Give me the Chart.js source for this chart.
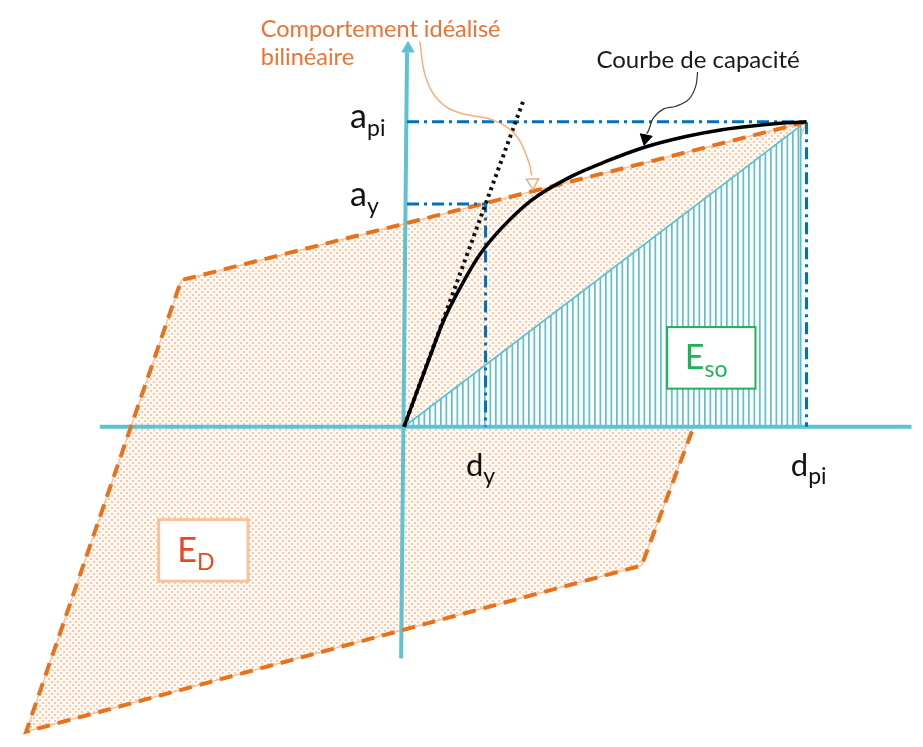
<!DOCTYPE html>
<html>
<head>
<meta charset="utf-8">
<script src="https://cdn.jsdelivr.net/npm/chart.js@4.4.0/dist/chart.umd.min.js"></script>
<style>
  body { margin: 0; background: #fff; }
  #wrap { width: 923px; height: 747px; }
</style>
</head>
<body>
<div id="wrap"><canvas id="chart"></canvas></div>
<script>
// schematic units, origin where the two axes cross (x = displacement, y = acceleration)

// capacity curve (courbe de capacite)
var capX = [0, 12, 25, 40, 57, 77, 100, 130, 170, 207, 245, 287, 324, 357, 390, 410];
var capY = [0, 33, 68, 108, 142, 176, 204, 232, 256, 272, 286, 297, 304, 308, 311, 312];

// initial stiffness (dotted)
var tanX = [0, 122];
var tanY = [0, 335];

// idealised bilinear loop corners: P, A, D, C
var loopX = [410, -227, -385, 242, 410];
var loopY = [312, 150, -312, -142, 312];

// dashed edges of the loop (right edge stops on the x axis)
var edgeX = [410, -227, -385, 242, 295];
var edgeY = [312, 150, -312, -142, 0];

// Eso triangle
var triX = [0, 404, 404, 0];
var triY = [0, 308, 0, 0];

// yield and peak points (dash-dot guides)
var apiX = [3, 410, 410];
var apiY = [312, 312, 0];
var ayX = [3, 83, 83];
var ayY = [228, 228, 0];

// axes
var xAxisX = [-310, 517];
var xAxisY = [0, 0];
var yAxisX = [-3, 3];
var yAxisY = [-237, 383];

// annotation leader curves
var orangeLeadX = [16, 22, 36, 57, 90, 114, 127, 130];
var orangeLeadY = [394, 358, 333, 321, 314, 298, 271, 257];
var blackLeadX = [299, 297, 290, 277, 264, 254, 249, 247];
var blackLeadY = [363, 348, 335, 328, 325, 316, 303, 300];

// labels (main text, subscript, anchor)
var labelText = ['a', 'a', 'd', 'd', 'E', 'E'];
var labelSub = ['pi', 'y', 'y', 'pi', 'so', 'D'];
var labelX = [-55, -55, 63, 394, 286, -231];
var labelY = [306, 226, -50, -50, 59, -138];

// boxes around the energy labels [x0, y0, x1, y1]
var esoBox = [268, 102, 358, 39];
var edBox = [-250, -95, -159, -158];

function pts(xs, ys) {
  var out = [];
  for (var i = 0; i < xs.length; i++) out.push({x: xs[i], y: ys[i]});
  return out;
}

var CYAN = '#5EC2D3';
var ORANGE = '#E8711C';
var BLUE = '#0070C0';

function dotPattern() {
  var c = document.createElement('canvas');
  c.width = 6; c.height = 6;
  var g = c.getContext('2d');
  g.fillStyle = '#fff8f3';
  g.fillRect(0, 0, 6, 6);
  g.fillStyle = '#f9c8a6';
  g.fillRect(0, 0, 2, 2);
  g.fillRect(3, 3, 2, 2);
  return g.createPattern(c, 'repeat');
}

function hatchPattern() {
  var c = document.createElement('canvas');
  c.width = 11; c.height = 4;
  var g = c.getContext('2d');
  g.fillStyle = '#ffffff';
  g.fillRect(0, 0, 11, 4);
  g.fillStyle = '#5cc0d2';
  g.fillRect(0, 0, 1.7, 4);
  g.fillRect(5.5, 0, 1.7, 4);
  return g.createPattern(c, 'repeat');
}

function line(data, color, width, dash, order, extra) {
  var ds = {
    data: data,
    showLine: true,
    borderColor: color,
    borderWidth: width,
    borderDash: dash || [],
    pointRadius: 0,
    fill: false,
    tension: 0,
    order: order
  };
  for (var k in extra) ds[k] = extra[k];
  return ds;
}

var labelsPlugin = {
  id: 'labels',
  afterDatasetsDraw: function(chart) {
    var ctx = chart.ctx;
    var sx = chart.scales.x, sy = chart.scales.y;
    ctx.save();

    function box(b, stroke, w) {
      var x0 = sx.getPixelForValue(b[0]), y0 = sy.getPixelForValue(b[1]);
      var x1 = sx.getPixelForValue(b[2]), y1 = sy.getPixelForValue(b[3]);
      ctx.fillStyle = '#fff';
      ctx.fillRect(x0, y0, x1 - x0, y1 - y0);
      ctx.strokeStyle = stroke;
      ctx.lineWidth = w;
      ctx.strokeRect(x0, y0, x1 - x0, y1 - y0);
    }
    box(esoBox, '#1DB356', 2);
    box(edBox, '#F8C29E', 3);

    var colors = ['#111', '#111', '#111', '#111', '#1DB356', '#E8481F'];
    var big = [34, 34, 31, 31, 34, 34];
    for (var i = 0; i < labelText.length; i++) {
      var px = sx.getPixelForValue(labelX[i]);
      var py = sy.getPixelForValue(labelY[i]);
      ctx.fillStyle = colors[i];
      ctx.font = big[i] + 'px Lato';
      ctx.textBaseline = 'alphabetic';
      ctx.fillText(labelText[i], px, py);
      var w = ctx.measureText(labelText[i]).width;
      ctx.font = '23px Lato';
      ctx.fillText(labelSub[i], px + w, py + 8);
    }

    ctx.font = '23.5px Lato';
    ctx.fillStyle = '#EE7233';
    ctx.fillText('Comportement idéalisé', sx.getPixelForValue(-146), sy.getPixelForValue(398.5));
    ctx.fillText('bilinéaire', sx.getPixelForValue(-146), sy.getPixelForValue(370));
    ctx.font = '24px Lato';
    ctx.fillStyle = '#1a1a1a';
    ctx.fillText('Courbe de capacité', sx.getPixelForValue(196), sy.getPixelForValue(367));
    ctx.restore();
  }
};

new Chart(document.getElementById('chart'), {
  type: 'scatter',
  data: {
    datasets: [
      line(pts(loopX, loopY), '#F8B88C', 1.2, [], 20,
        {fill: 'shape', backgroundColor: dotPattern()}),
      line(pts(triX, triY), CYAN, 1.8, [], 19,
        {fill: 'shape', backgroundColor: hatchPattern()}),
      line(pts(xAxisX, xAxisY), CYAN, 4, [], 17),
      line(pts(yAxisX, yAxisY), CYAN, 4, [], 17),
      {
        data: [{x: 4, y: 387}],
        pointStyle: 'triangle', pointRadius: 7, rotation: 0,
        backgroundColor: CYAN, borderColor: CYAN, borderWidth: 1, order: 16
      },
      line(pts(edgeX, edgeY), ORANGE, 4, [13, 8], 15),
      line(pts(apiX, apiY), BLUE, 3, [12, 5, 3, 5], 14),
      line(pts(ayX, ayY), BLUE, 3, [12, 5, 3, 5], 14),
      line(pts(tanX, tanY), '#111', 4, [3, 4], 12),
      line(pts(capX, capY), '#000', 3.5, [], 11, {cubicInterpolationMode: 'monotone'}),
      line(pts(orangeLeadX, orangeLeadY), '#F5AE7C', 1.5, [], 5, {tension: 0.4}),
      {
        data: [{x: 131, y: 250}],
        pointStyle: 'triangle', pointRadius: 7, rotation: 178,
        backgroundColor: '#fff', borderColor: '#F5AE7C', borderWidth: 1.5, order: 4
      },
      line(pts(blackLeadX, blackLeadY), '#333', 1.2, [], 5, {tension: 0.4}),
      {
        data: [{x: 246, y: 295}],
        pointStyle: 'triangle', pointRadius: 7, rotation: 192,
        backgroundColor: '#000', borderColor: '#000', borderWidth: 1, order: 4
      }
    ]
  },
  options: {
    responsive: true,
    maintainAspectRatio: false,
    animation: false,
    layout: { padding: 0 },
    plugins: {
      legend: { display: false },
      tooltip: { enabled: false }
    },
    scales: {
      x: { type: 'linear', min: -403, max: 520, display: false },
      y: { type: 'linear', min: -319, max: 428, display: false }
    }
  },
  plugins: [labelsPlugin]
});
</script>
</body>
</html>
